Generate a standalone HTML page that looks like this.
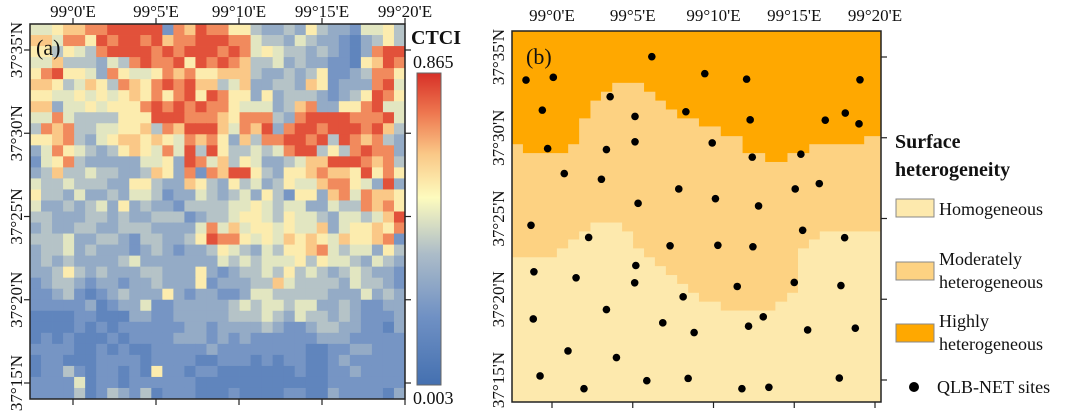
<!DOCTYPE html>
<html><head><meta charset="utf-8">
<style>
html,body{margin:0;padding:0;background:#fff;width:1080px;height:416px;overflow:hidden}
svg{display:block;font-family:"Liberation Serif",serif}
</style></head>
<body>
<svg id="fig" width="1080" height="416" viewBox="0 0 1080 416" xmlns="http://www.w3.org/2000/svg">
<g id="panelA"></g>
<g id="panelB"></g>
</svg>
<script>
// ---- data ----
const lonTicks = ["99°0'E","99°5'E","99°10'E","99°15'E","99°20'E"];
const latTicks = ["37°35'N","37°30'N","37°25'N","37°20'N","37°15'N"];
const ctciMin = 0.003, ctciMax = 0.865;
// CTCI grid, levels 0 (low) .. 9 (high), 34x34
const ctciRows = [
"5567788999992879886643343643325564",
"7758869899897889998854435433213464",
"6646548999989899989856544343213899",
"5574443548988969898744534332216798",
"6896653865568786677743343462234886",
"7764576487689897745733443762333895",
"6655656567686896986636344432346986",
"7735565666898989886555347833668955",
"5585444466699988876888438999988895",
"4878445566748799975879389989998974",
"6678435677676587863748899894987843",
"3586543467658594964454589946489883",
"2568433333556398574653345779998784",
"3474454433476382879964366787769686",
"5445444336643376436453465578865393",
"6443533435542335434536426637858776",
"5334345363433244445565455335448786",
"4433344343344423445665465543554579",
"3433443344433335857566565573566768",
"4445334432443346988656576765766782",
"3445343332343233465435466785455364",
"3434333345333333354545556465543543",
"3346434333443336323445464543454332",
"2344323323343336233344754444354432",
"2234212343336323322355444443335343",
"2222231233522333334545545533432233",
"1111221113322333334445435443432223",
"1111212122222233233334322344332213",
"1212111212222333232322222233322222",
"2222112121122222322222222112233222",
"1221112222122221122212122112322222",
"1224212212162212211111112112232222",
"2222512212222221111111111112222222",
"2222412432412221112111122113222213"
];
// heterogeneity class boundaries: per column strip [lonStart(min), lonEnd(min), lat(min)]
const highBoundary = [[-2.5,-1.8,29.6],[-1.8,0.97,29.05],[0.97,1.65,29.6],[1.65,2.35,31.2],[2.35,3.0,32.3],[3.0,3.7,32.85],[3.7,5.7,33.4],[5.7,6.4,32.85],[6.4,7.05,32.3],[7.05,7.75,31.75],[7.75,9.1,31.2],[9.1,10.45,30.7],[10.45,11.8,30.1],[11.8,13.2,29.05],[13.2,14.55,28.5],[14.55,15.9,29.05],[15.9,19.3,29.6],[19.3,20.4,30.1]];
const modBoundary = [[-2.5,0.27,22.6],[0.27,0.97,23.15],[0.97,1.65,23.7],[1.65,2.35,24.2],[2.35,4.34,24.75],[4.34,5.02,24.2],[5.02,5.7,23.15],[5.7,6.37,22.6],[6.37,7.05,22.05],[7.05,7.75,21.5],[7.75,8.43,20.95],[8.43,9.1,20.4],[9.1,10.45,19.85],[10.45,13.8,19.3],[13.8,14.53,19.85],[14.53,15.2,20.4],[15.2,15.88,23.15],[15.88,16.55,23.7],[16.55,20.4,24.2]];
const siteLon = [-1.61,0.08,6.18,9.46,12.05,19.07,-0.60,3.60,5.14,8.29,12.27,16.92,18.16,19.01,-0.27,3.37,5.14,9.92,12.40,15.41,0.76,3.06,7.85,10.12,15.06,16.55,5.33,12.79,-1.30,2.27,7.31,10.27,12.44,15.52,18.12,-1.12,1.49,5.19,5.12,11.47,15.0,17.89,8.12,-1.16,3.37,6.86,8.80,12.17,13.08,15.83,18.78,0.99,3.99,-0.74,1.98,5.87,8.43,11.76,13.43,17.79];
const siteLat = [33.57,33.74,35.02,33.97,33.63,33.59,31.71,32.54,31.32,31.61,31.11,31.09,31.53,30.86,29.33,29.27,29.75,29.68,28.80,28.98,27.78,27.43,26.83,26.23,26.83,27.16,25.94,25.78,24.58,23.83,23.31,23.34,23.25,24.27,23.81,21.70,21.33,22.09,21.02,20.79,21.04,20.85,20.15,18.78,19.36,18.54,17.94,18.33,18.91,18.10,18.21,16.80,16.39,15.25,14.46,14.96,15.10,14.46,14.55,15.12];
const legendLabels = [["Homogeneous"],["Moderately","heterogeneous"],["Highly","heterogeneous"]];
const classColors = ["#fde9ad","#fdd282","#ffa800"];

// ---- helpers ----
const NS="http://www.w3.org/2000/svg";
function mk(tag, attrs, parent){const e=document.createElementNS(NS,tag);for(const k in attrs)e.setAttribute(k,attrs[k]);parent.appendChild(e);return e;}
const stops=[[0,[68,112,176]],[0.22,[112,145,196]],[0.42,[172,188,200]],[0.6,[253,251,190]],[0.74,[250,200,135]],[0.87,[238,120,80]],[1,[215,48,39]]];
function cmap(t){for(let i=1;i<stops.length;i++){if(t<=stops[i][0]){const a=stops[i-1],b=stops[i];const f=(t-a[0])/(b[0]-a[0]);const c=a[1].map((v,j)=>Math.round(v+(b[1][j]-v)*f));return `rgb(${c[0]},${c[1]},${c[2]})`;}}return "rgb(215,48,39)";}

// ---- Panel A ----
const A=document.getElementById('panelA');
const aL=30,aT=24,aR=405,aB=399;
const ax0=73, axStep=83, ay0=50, ayStep=83.25;
const nr=ctciRows.length, nc=ctciRows[0].length;
const cw=(aR-aL)/nc, ch=(aB-aT)/nr;
const cells=mk('g',{},A);


ctciRows.forEach((row,r)=>{for(let c=0;c<nc;c++){const v=0.04+(+row[c]/9)*0.9;const rc=mk('rect',{x:(aL+c*cw).toFixed(2),y:(aT+r*ch).toFixed(2),width:(cw+0.4).toFixed(2),height:(ch+0.4).toFixed(2),fill:cmap(v)},cells);

}});
const fa=mk('rect',{x:aL,y:aT,width:aR-aL,height:aB-aT,fill:'none',stroke:'#222','stroke-width':1.5},A);

lonTicks.forEach((t,i)=>{const x=ax0+i*axStep;
mk('line',{x1:x,y1:aT-6,x2:x,y2:aT,stroke:'#222','stroke-width':1.2},A);
mk('line',{x1:x,y1:aB,x2:x,y2:aB+6,stroke:'#222','stroke-width':1.2},A);
const tx=mk('text',{x:x,y:17,'font-size':17,'text-anchor':'middle',fill:'#111'},A);tx.textContent=t;
});
latTicks.forEach((t,i)=>{const y=ay0+i*ayStep;
mk('line',{x1:aL-6,y1:y,x2:aL,y2:y,stroke:'#222','stroke-width':1.2},A);
mk('line',{x1:aR,y1:y,x2:aR+6,y2:y,stroke:'#222','stroke-width':1.2},A);
const tx=mk('text',{x:0,y:0,'font-size':17,'text-anchor':'middle',fill:'#111',transform:`translate(22,${y}) rotate(-90)`},A);tx.textContent=t;
});
const la=mk('text',{x:36,y:55,'font-size':22,fill:'#111'},A);la.textContent='(a)';

// colorbar
const defs=mk('defs',{},A);const lg=mk('linearGradient',{id:'cb',x1:0,y1:1,x2:0,y2:0},defs);
stops.forEach(s=>mk('stop',{offset:s[0],'stop-color':`rgb(${s[1].join(',')})`},lg));
const cb=mk('rect',{x:417,y:73,width:24,height:312,fill:'url(#cb)',stroke:'#666','stroke-width':1},A);

const ct=mk('text',{x:411,y:44,'font-size':20,'font-weight':'bold',fill:'#111'},A);ct.textContent='CTCI';

const cmx=mk('text',{x:413,y:68,'font-size':18,fill:'#111'},A);cmx.textContent=ctciMax.toFixed(3);

const cmn=mk('text',{x:413,y:404,'font-size':18,fill:'#111'},A);cmn.textContent=ctciMin.toFixed(3);


// ---- Panel B ----
const B=document.getElementById('panelB');
const bL=512,bT=31,bR=881,bB=402;
const bx0=552, bxPerMin=(875-552)/20, by0=57, byPerMin=(380-57)/20;
const X=lon=>bx0+lon*bxPerMin;
const Y=lat=>by0+(35-lat)*byPerMin;
const clip=mk('clipPath',{id:'bclip'},mk('defs',{},B));mk('rect',{x:bL,y:bT,width:bR-bL,height:bB-bT},clip);
const gB=mk('g',{'clip-path':'url(#bclip)'},B);
const bg=mk('rect',{x:bL,y:bT,width:bR-bL,height:bB-bT,fill:classColors[0]},gB);

function region(bnd,color,name){bnd.forEach(s=>{const x1=X(s[0]),x2=X(s[1]);const r=mk('rect',{x:x1.toFixed(2),y:bT,width:(x2-x1+0.5).toFixed(2),height:(Y(s[2])-bT).toFixed(2),fill:color},gB);
});}
region(modBoundary,classColors[1],'moderately-heterogeneous-region');
region(highBoundary,classColors[2],'highly-heterogeneous-region');
siteLon.forEach((lo,i)=>{const c=mk('circle',{cx:X(lo).toFixed(2),cy:Y(siteLat[i]).toFixed(2),r:3.8,fill:'#000'},gB);
});
const fb=mk('rect',{x:bL,y:bT,width:bR-bL,height:bB-bT,fill:'none',stroke:'#222','stroke-width':1.5},B);

lonTicks.forEach((t,i)=>{const x=X(i*5);
mk('line',{x1:x,y1:bB,x2:x,y2:bB+6,stroke:'#222','stroke-width':1.2},B);
const tx=mk('text',{x:x,y:21,'font-size':17,'text-anchor':'middle',fill:'#111'},B);tx.textContent=t;
});
latTicks.forEach((t,i)=>{const y=Y(35-i*5);
mk('line',{x1:bR,y1:y,x2:bR+6,y2:y,stroke:'#222','stroke-width':1.2},B);
const tx=mk('text',{x:0,y:0,'font-size':17,'text-anchor':'middle',fill:'#111',transform:`translate(504,${y}) rotate(-90)`},B);tx.textContent=t;
});
const lb=mk('text',{x:526,y:64,'font-size':22,fill:'#111'},B);lb.textContent='(b)';

// legend
const L=mk('g',{},B);
const t1=mk('text',{x:895,y:148,'font-size':20,'font-weight':'bold',fill:'#111'},L);t1.textContent='Surface';

const t2=mk('text',{x:895,y:176,'font-size':20,'font-weight':'bold',fill:'#111'},L);t2.textContent='heterogeneity';

const boxY=[199,262,324];
legendLabels.forEach((lab,i)=>{const r=mk('rect',{x:896,y:boxY[i],width:38,height:18,fill:classColors[i],stroke:'#888','stroke-width':1},L);

const base = lab.length===1 ? boxY[i]+16 : boxY[i]+3;
lab.forEach((s,j)=>{const t=mk('text',{x:939,y:base+j*23,'font-size':18,fill:'#111'},L);t.textContent=s;
});});
const ld=mk('circle',{cx:914,cy:387,r:5,fill:'#000'},L);

const lt=mk('text',{x:937,y:393,'font-size':18,fill:'#111'},L);lt.textContent='QLB-NET sites';

</script>
</body></html>
